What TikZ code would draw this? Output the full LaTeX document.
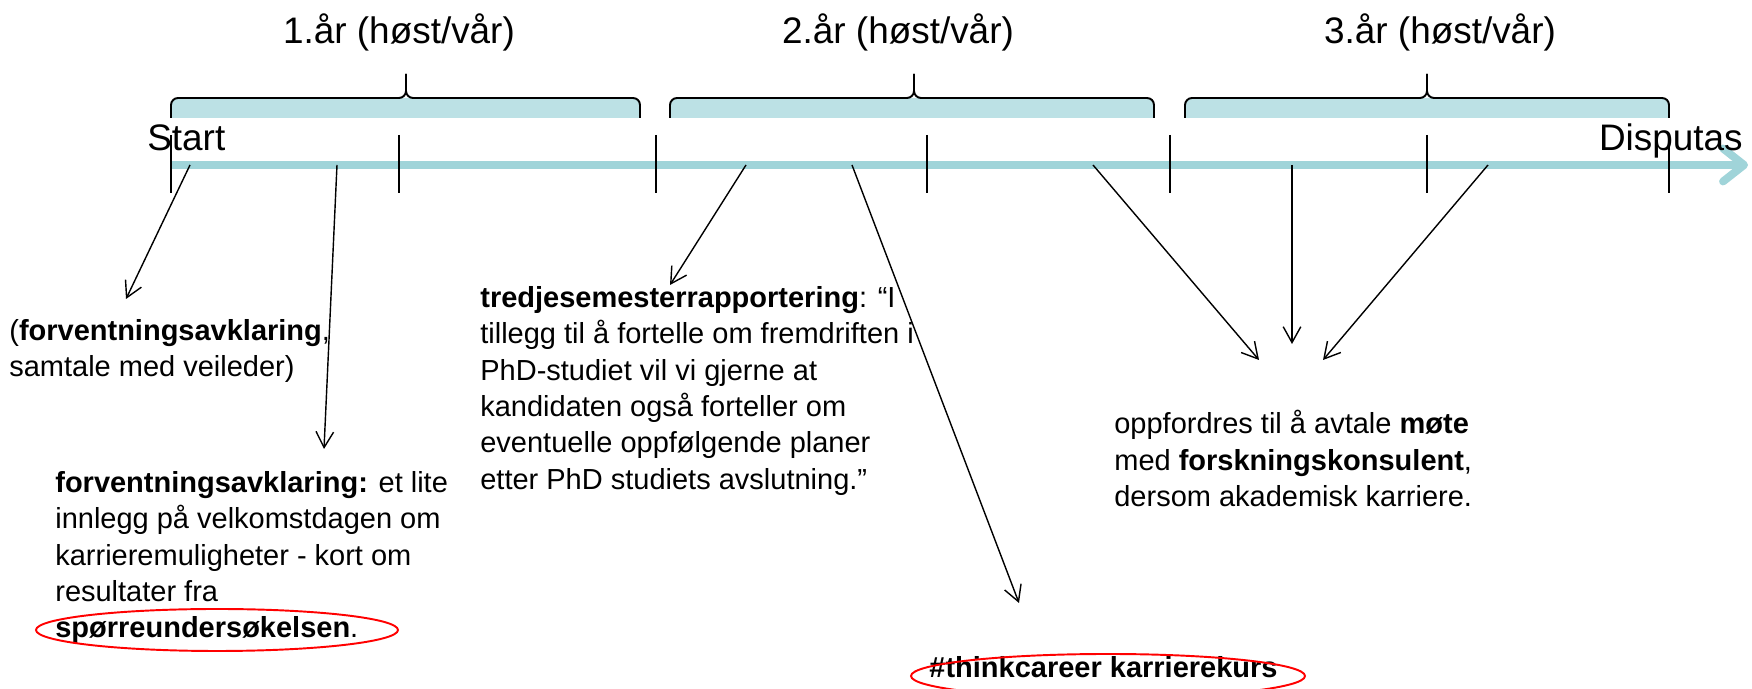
\documentclass[tikz,border=0pt]{standalone}
\usepackage{fontspec}
\setmainfont{Liberation Sans}
\usetikzlibrary{arrows.meta, positioning}
\definecolor{axisteal}{RGB}{160, 212, 217}
\definecolor{bracefill}{RGB}{188, 225, 229}
\definecolor{markred}{RGB}{255, 0, 0}

\tikzset{
  yearlabel/.style={font=\fontsize{21}{25}\selectfont, anchor=base, inner sep=0pt},
  notetext/.style={font=\fontsize{16.5}{20.7}\selectfont, align=left, anchor=north west, inner sep=0pt},
  pointer/.style={line width=0.8pt, -{Straight Barb[length=9pt, width=10pt]}},
  circled/.style={draw=markred, line width=1.1pt},
}

\begin{document}
\begin{tikzpicture}
  \useasboundingbox (0,0) rectangle (35.04,13.78);

  % Braces over the three years
  \foreach \a/\m/\b in {3.42/8.12/12.80, 13.40/18.28/23.08, 23.70/28.54/33.38} {
    \fill[bracefill] (\a,11.42) [rounded corners=4pt] -- (\a,11.82) -- (\b,11.82) [sharp corners] -- (\b,11.42) -- cycle;
    \draw[line width=1.1pt, rounded corners=4pt] (\a,11.42) -- (\a,11.82) -- (\m,11.82) -- (\m,12.30);
    \draw[line width=1.1pt, rounded corners=4pt] (\m,12.30) -- (\m,11.82) -- (\b,11.82) -- (\b,11.42);
  }
  \node[yearlabel] (year1) at (7.98,12.90) {1.år (høst/vår)};
  \node[yearlabel] (year2) at (17.96,12.90) {2.år (høst/vår)};
  \node[yearlabel] (year3) at (28.80,12.90) {3.år (høst/vår)};

  % Time axis
  \coordinate (axisstart) at (3.42,10.48);
  \coordinate (axisend) at (34.96,10.48);
  \draw[axisteal, line width=4.5pt, -{Straight Barb[length=0.42cm, width=0.66cm, round]}] (axisstart) -- (axisend);
  \foreach \x in {3.42, 7.98, 13.12, 18.54, 23.40, 28.54, 33.38} {
    \draw[line width=0.8pt] (\x,11.08) -- (\x,9.92);
  }
  \node[yearlabel, anchor=base west] (start) at (2.94,10.76) {Start};
  \node[yearlabel, anchor=base east] (disputas) at (34.86,10.76) {Disputas};

  % Notes
  \node[notetext] (samtale) at (0.18,7.40) {(\textbf{forventningsavklaring},\\samtale med veileder)};
  \node[notetext] (velkomst) at (1.10,4.36) {\textbf{forventningsavklaring:} et lite\\innlegg på velkomstdagen om\\karrieremuligheter - kort om\\resultater fra\\\textbf{spørreundersøkelsen}.};
  \node[notetext] (rapport) at (9.60,8.06) {\textbf{tredjesemesterrapportering}: “I\\tillegg til å fortelle om fremdriften i\\PhD-studiet vil vi gjerne at\\kandidaten også forteller om\\eventuelle oppfølgende planer\\etter PhD studiets avslutning.”};
  \node[notetext] (konsulent) at (22.28,5.58) {oppfordres til å avtale \textbf{møte}\\med \textbf{forskningskonsulent},\\dersom akademisk karriere.};
  \node[notetext, anchor=base] (kurs) at (22.07,0.22) {\textbf{\#thinkcareer karrierekurs}};

  % Red rings
  \draw[circled] (4.34,1.18) ellipse [x radius=3.62, y radius=0.42];
  \draw[circled] (22.16,0.26) ellipse [x radius=3.94, y radius=0.44];

  % Pointers from the axis
  \coordinate (from1) at (3.80,10.48);  \coordinate (to1) at (2.52,7.80);
  \coordinate (from2) at (6.74,10.48);  \coordinate (to2) at (6.48,4.80);
  \coordinate (from3) at (14.92,10.48); \coordinate (to3) at (13.40,8.08);
  \coordinate (from4) at (17.04,10.48); \coordinate (to4) at (20.38,1.72);
  \coordinate (from5) at (21.86,10.48); \coordinate (to5) at (25.18,6.58);
  \coordinate (from6) at (25.84,10.48); \coordinate (to6) at (25.84,6.90);
  \coordinate (from7) at (29.76,10.48); \coordinate (to7) at (26.46,6.58);
  \foreach \i in {1,...,7} {
    \draw[pointer] (from\i) -- (to\i);
  }
\end{tikzpicture}
\end{document}
